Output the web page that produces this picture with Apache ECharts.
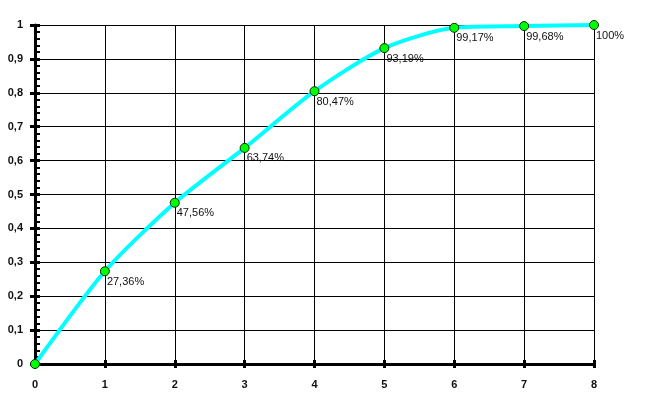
<!DOCTYPE html>
<html>
<head>
<meta charset="utf-8">
<script src="https://cdn.jsdelivr.net/npm/echarts@6/dist/echarts.min.js"></script>
<style>
  html, body { margin: 0; padding: 0; background: #fff; }
  #chart { width: 645px; height: 398px; }
</style>
</head>
<body>
<div id="chart"></div>
<script>
// values
const xValues = [0, 1, 2, 3, 4, 5, 6, 7, 8]
const yValues = [0, 0.2736, 0.4756, 0.6374, 0.8047, 0.9319, 0.9917, 0.9968, 1]
const pointLabels = ['', '27,36%', '47,56%', '63,74%', '80,47%', '93,19%', '99,17%', '99,68%', '100%']

const chart = echarts.init(document.getElementById('chart'))

const labelFont = {
  color: '#111',
  fontFamily: 'Liberation Sans, Arial, sans-serif',
  fontSize: 11,
  fontWeight: 'bold'
}

const baseX = { type: 'value', min: 0, max: 8, interval: 1, position: 'bottom' }
const baseY = { type: 'value', min: 0, max: 1, interval: 0.1, position: 'left' }

chart.setOption({
  animation: false,
  grid: { left: 35, right: 51, top: 25, bottom: 34 },
  xAxis: [
    Object.assign({}, baseX, {
      axisLine: { lineStyle: { color: '#000', width: 3 } },
      axisTick: { show: true, length: 4, lineStyle: { color: '#000', width: 3 } },
      axisLabel: Object.assign({ margin: 15 }, labelFont),
      splitLine: { show: true, lineStyle: { color: '#000', width: 1 } }
    }),
    Object.assign({}, baseX, {
      axisLine: { show: false },
      axisTick: { show: true, inside: true, length: 4, lineStyle: { color: '#000', width: 3 } },
      axisLabel: { show: false },
      splitLine: { show: false }
    })
  ],
  yAxis: [
    Object.assign({}, baseY, {
      axisLine: { show: true, lineStyle: { color: '#000', width: 3 } },
      axisTick: { show: true, length: 5, lineStyle: { color: '#000', width: 3 } },
      axisLabel: Object.assign({
        margin: 12,
        formatter: v => String(Math.round(v * 10) / 10).replace('.', ',')
      }, labelFont),
      splitLine: { show: true, lineStyle: { color: '#000', width: 1 } }
    }),
    Object.assign({}, baseY, {
      axisLine: { show: false },
      axisTick: { show: true, inside: true, length: 5, lineStyle: { color: '#000', width: 3 } },
      minorTick: { show: true, splitNumber: 5, length: 5, lineStyle: { color: '#000', width: 2 } },
      axisLabel: { show: false },
      splitLine: { show: false }
    })
  ],
  series: [
    {
      type: 'line',
      data: xValues.map((x, i) => [x, yValues[i]]),
      smooth: 0.25,
      clip: false,
      symbol: 'circle',
      symbolSize: 9,
      lineStyle: { color: '#00ffff', width: 4 },
      itemStyle: { color: '#00ff00', borderColor: '#0a2a0a', borderWidth: 1 },
      label: {
        show: true,
        position: [7, 10],
        align: 'left',
        verticalAlign: 'top',
        color: '#111',
        fontFamily: 'Liberation Sans, Arial, sans-serif',
        fontSize: 11,
        formatter: p => pointLabels[p.dataIndex]
      },
      z: 5
    }
  ]
})
</script>
</body>
</html>
